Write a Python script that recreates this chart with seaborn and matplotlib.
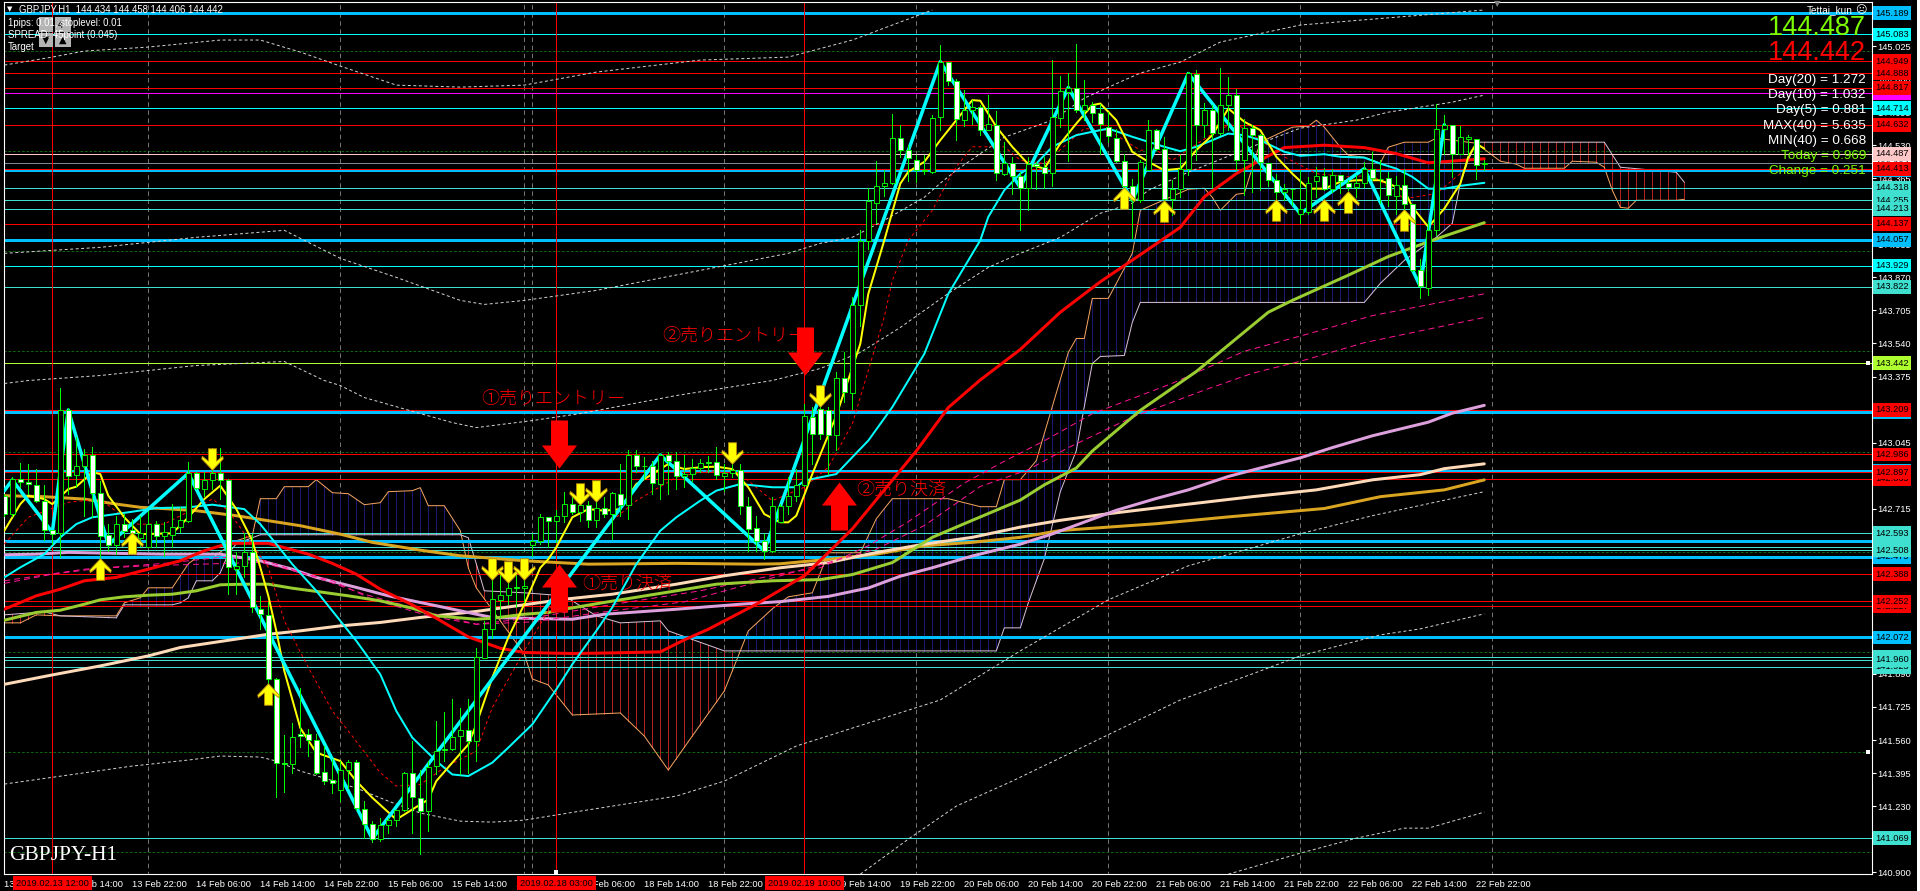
import numpy as np
import pandas as pd
import matplotlib
matplotlib.use("Agg")
import matplotlib.pyplot as plt
from matplotlib.path import Path
from matplotlib.patches import Rectangle
import seaborn as sns

# ---- candles (GBPJPY H1) ----
opens = [142.780,142.688,142.862,142.848,142.833,142.752,142.608,142.592,143.208,142.882,
142.928,142.982,142.792,142.583,142.535,142.638,142.607,142.568,142.525,142.638,
142.580,142.585,142.622,142.655,142.892,142.813,142.858,142.892,142.858,142.412,
142.428,142.497,142.213,142.183,141.863,141.443,141.438,141.588,141.588,141.558,
141.402,141.358,141.308,141.408,141.452,141.218,141.142,141.067,141.138,141.162,
141.213,141.397,141.272,141.208,141.430,141.517,141.517,141.578,141.608,141.553,
141.972,142.113,142.258,142.283,142.322,142.318,142.533,142.552,142.672,142.655,
142.680,142.738,142.697,142.733,142.658,142.718,142.688,142.788,142.735,142.983,
142.930,142.927,142.838,142.983,142.952,142.880,142.888,142.917,142.947,142.947,
142.880,142.895,142.908,142.727,142.617,142.552,142.502,142.647,142.730,142.780,
142.833,143.175,143.213,143.208,143.083,143.368,143.293,143.733,144.050,144.243,
144.327,144.343,144.568,144.508,144.455,144.405,144.397,144.672,144.947,144.852,
144.658,144.708,144.722,144.608,144.632,144.388,144.442,144.377,144.318,144.438,
144.422,144.393,144.668,144.797,144.818,144.708,144.733,144.692,144.622,144.568,
144.452,144.327,144.255,144.408,144.608,144.513,144.263,144.310,144.410,144.883,
144.633,144.708,144.593,144.730,144.783,144.455,144.617,144.583,144.442,144.358,
144.297,144.313,144.188,144.197,144.352,144.375,144.313,144.383,144.342,144.322,
144.342,144.413,144.363,144.368,144.277,144.333,144.238,143.905,143.818,144.108,
144.610,144.632,144.488,144.563,144.563,144.434]
closes = [142.688,142.863,142.848,142.838,142.752,142.608,142.588,143.208,142.880,142.928,
142.982,142.792,142.580,142.535,142.638,142.605,142.592,142.592,142.638,142.580,
142.597,142.622,142.658,142.892,142.818,142.858,142.892,142.858,142.422,142.428,
142.497,142.222,142.188,141.863,141.443,141.438,141.575,141.578,141.558,141.397,
141.355,141.343,141.408,141.452,141.222,141.142,141.067,141.135,141.162,141.213,
141.397,141.275,141.208,141.427,141.505,141.508,141.577,141.608,141.553,141.977,
142.113,142.263,142.283,142.318,142.317,142.330,142.552,142.672,142.655,142.677,
142.738,142.697,142.733,142.658,142.718,142.688,142.792,142.735,142.983,142.930,
142.927,142.842,142.983,142.952,142.880,142.888,142.917,142.942,142.945,142.885,
142.892,142.908,142.730,142.613,142.552,142.505,142.728,142.728,142.780,142.833,
143.177,143.088,143.088,143.083,143.368,143.300,143.733,144.050,144.250,144.327,
144.343,144.568,144.508,144.468,144.405,144.403,144.668,144.947,144.852,144.663,
144.708,144.722,144.608,144.638,144.393,144.442,144.377,144.318,144.435,144.428,
144.393,144.672,144.800,144.818,144.708,144.733,144.692,144.638,144.578,144.452,
144.327,144.255,144.447,144.608,144.513,144.263,144.313,144.410,144.888,144.633,
144.708,144.593,144.730,144.783,144.458,144.617,144.583,144.447,144.358,144.297,
144.313,144.312,144.213,144.342,144.375,144.313,144.383,144.350,144.322,144.342,
144.413,144.367,144.362,144.283,144.333,144.238,143.905,143.825,144.105,144.613,
144.632,144.488,144.572,144.572,144.433,144.442]
highs = [142.788,142.872,142.943,142.938,142.913,142.835,142.608,143.318,143.218,143.075,
143.013,143.025,142.855,142.638,142.680,142.688,142.663,142.680,142.705,142.655,
142.647,142.738,142.722,142.950,142.897,142.897,143.018,143.018,142.863,142.497,
142.592,142.588,142.280,142.247,141.872,141.585,141.647,141.822,141.613,141.588,
141.530,141.463,141.455,141.458,141.458,141.255,141.158,141.172,141.172,141.213,
141.402,141.555,141.408,141.455,141.655,141.702,141.763,141.722,141.763,142.018,
142.155,142.363,142.388,142.388,142.388,142.388,142.588,142.688,142.672,142.708,
142.797,142.772,142.755,142.755,142.797,142.772,142.797,142.938,143.008,143.008,
142.972,142.955,142.988,142.997,142.997,142.985,142.963,142.963,142.980,143.022,
142.938,142.938,142.938,142.772,142.680,142.588,142.772,142.738,142.872,142.913,
143.238,143.222,143.322,143.222,143.397,143.497,143.772,144.105,144.317,144.450,
144.405,144.688,144.630,144.530,144.480,144.480,144.680,145.030,144.947,144.863,
144.805,144.755,144.730,144.783,144.700,144.547,144.472,144.397,144.472,144.447,
144.472,144.955,144.875,144.888,145.035,144.855,144.747,144.738,144.697,144.613,
144.488,144.363,144.455,144.658,144.613,144.572,144.355,144.480,144.897,144.905,
144.743,144.730,144.913,144.872,144.813,144.663,144.630,144.588,144.442,144.388,
144.338,144.313,144.405,144.372,144.422,144.417,144.413,144.383,144.355,144.380,
144.447,144.497,144.455,144.397,144.375,144.413,144.238,143.963,144.147,144.738,
144.680,144.632,144.625,144.583,144.563,144.458]
lows = [142.680,142.680,142.825,142.788,142.747,142.558,142.538,142.472,142.788,142.825,
142.680,142.672,142.472,142.505,142.488,142.572,142.522,142.530,142.522,142.525,
142.480,142.522,142.597,142.647,142.813,142.780,142.813,142.763,142.288,142.288,
142.372,142.197,142.113,141.825,141.277,141.302,141.397,141.525,141.480,141.388,
141.342,141.297,141.255,141.322,141.213,141.072,141.050,141.058,141.097,141.130,
141.208,141.097,140.992,141.108,141.392,141.455,141.508,141.388,141.397,141.455,
141.968,142.067,142.172,142.238,142.222,142.247,142.480,142.538,142.522,142.547,
142.647,142.688,142.655,142.622,142.622,142.672,142.563,142.680,142.663,142.897,
142.863,142.788,142.763,142.788,142.813,142.822,142.855,142.897,142.897,142.863,
142.805,142.872,142.688,142.505,142.505,142.463,142.497,142.647,142.688,142.755,
142.828,142.938,143.063,142.888,143.010,143.247,143.213,143.627,144.010,144.142,
144.277,144.335,144.472,144.352,144.347,144.388,144.392,144.605,144.830,144.555,
144.625,144.638,144.580,144.605,144.355,144.380,144.288,144.105,144.205,144.313,
144.318,144.325,144.622,144.452,144.697,144.655,144.647,144.488,144.547,144.447,
144.308,144.062,144.247,144.405,144.505,144.180,144.180,144.272,144.380,144.455,
144.572,144.322,144.580,144.605,144.405,144.280,144.297,144.305,144.327,144.255,
144.255,144.230,144.142,144.188,144.272,144.305,144.297,144.292,144.305,144.272,
144.322,144.355,144.243,144.225,144.185,144.205,143.902,143.768,143.780,144.080,
144.488,144.372,144.485,144.480,144.363,144.406]

# ---- zigzag ----
zig_i = [0,1,6,8,13,23,46,82,95,117,127,133,141,148,162,170,177,180]
zig_p = [142.805,142.858,142.597,143.208,142.535,142.892,141.067,142.983,142.505,144.947,
         144.318,144.818,144.255,144.888,144.188,144.413,143.825,144.632]

# ---- moving averages ----
yellow_i = [0,2,3,5,6,8,9,11,12,13,15,17,21,23,25,27,29,31,32,33,34,35,37,39,42,44,46,49,51,53,54,56,58,59,61,63,65,67,68,69,71,73,75,77,79,81,83,85,87,89,91,93,95,97,98,99,101,104,107,108,110,112,113,115,117,119,121,122,124,126,128,130,132,134,136,137,139,141,143,145,147,149,151,153,155,157,159,161,163,165,167,169,172,175,176,178,180,182,183,184,185]
yellow_p = [142.605,142.738,142.780,142.763,142.738,142.813,142.825,142.897,142.888,142.780,142.672,142.588,142.592,142.672,142.763,142.830,142.713,142.555,142.422,142.280,142.105,141.905,141.620,141.497,141.455,141.355,141.272,141.163,141.213,141.263,141.355,141.447,141.538,141.638,141.872,142.072,142.238,142.420,142.463,142.522,142.672,142.713,142.705,142.713,142.838,142.888,142.938,142.913,142.922,142.925,142.913,142.822,142.688,142.647,142.647,142.680,142.888,143.180,143.538,143.788,144.055,144.338,144.397,144.447,144.555,144.655,144.755,144.752,144.622,144.522,144.435,144.413,144.538,144.638,144.730,144.738,144.655,144.497,144.447,144.405,144.413,144.505,144.580,144.713,144.647,144.605,144.472,144.388,144.313,144.313,144.347,144.355,144.355,144.305,144.222,144.122,144.213,144.338,144.472,144.538,144.513]
cyan_i = [0,2,5,7,9,11,13,16,19,23,26,30,32,34,36,39,41,44,47,49,51,54,56,58,61,63,66,69,71,74,76,79,82,84,87,89,92,94,96,99,100,104,106,108,111,115,118,122,123,125,127,129,131,134,136,138,141,143,145,147,149,151,153,155,157,160,162,165,167,170,172,174,176,178,180,182,185]
cyan_p = [142.372,142.422,142.488,142.572,142.638,142.672,142.683,142.700,142.718,142.722,142.735,142.713,142.638,142.538,142.438,142.305,142.205,142.055,141.888,141.705,141.572,141.455,141.388,141.380,141.447,141.522,141.638,141.813,141.938,142.105,142.222,142.438,142.605,142.672,142.755,142.805,142.838,142.830,142.822,142.822,142.855,142.888,142.972,143.055,143.222,143.488,143.788,144.055,144.172,144.305,144.388,144.438,144.522,144.580,144.597,144.613,144.572,144.547,144.522,144.500,144.522,144.555,144.588,144.580,144.555,144.497,144.477,144.485,144.472,144.468,144.438,144.413,144.372,144.313,144.313,144.327,144.342]
red_i = [0,4,7,10,14,18,22,25,28,33,38,41,44,47,51,54,58,62,65,71,76,82,85,88,94,100,103,106,114,118,122,127,132,137,142,147,150,154,157,160,165,170,174,178,185]
red_p = [142.213,142.280,142.313,142.355,142.372,142.413,142.455,142.505,142.542,142.542,142.488,142.442,142.388,142.313,142.235,142.168,142.075,142.018,141.997,141.992,141.995,142.000,142.060,142.113,142.238,142.380,142.496,142.614,143.003,143.220,143.358,143.510,143.696,143.848,143.983,144.120,144.272,144.388,144.455,144.518,144.530,144.518,144.488,144.442,144.462]
ygreen_i = [0,4,7,10,12,15,18,21,24,27,30,33,36,39,43,47,51,54,59,61,65,68,70,75,84,89,96,102,106,111,116,121,127,130,134,136,142,149,158,161,168,173,177,180,185]
ygreen_p = [142.158,142.197,142.208,142.238,142.260,142.275,142.283,142.288,142.305,142.335,142.338,142.338,142.318,142.302,142.280,142.255,142.218,142.180,142.163,142.168,142.188,142.197,142.213,142.247,142.305,142.338,142.355,142.361,142.386,142.446,142.572,142.657,142.758,142.834,142.918,143.003,143.206,143.400,143.696,143.755,143.881,143.974,144.033,144.076,144.143]
plum_i = [0,4,8,14,20,27,32,36,39,44,48,51,55,59,61,65,71,75,84,92,97,103,108,112,116,121,127,131,135,139,144,148,153,157,162,166,171,178,181,185]
plum_p = [142.485,142.488,142.497,142.492,142.488,142.488,142.455,142.413,142.372,142.322,142.280,142.255,142.222,142.188,142.172,142.168,142.163,142.188,142.213,142.238,142.251,142.277,142.319,142.378,142.420,142.479,142.538,142.589,142.648,142.707,142.766,142.809,142.876,142.918,142.969,143.020,143.079,143.147,143.192,143.231]
peach_i = [0,6,12,18,22,28,33,37,42,47,52,59,70,76,84,90,97,103,109,115,121,127,132,138,147,156,164,171,177,180,185]
peach_p = [141.838,141.885,141.930,141.980,142.022,142.058,142.088,142.105,142.130,142.147,142.172,142.202,142.263,142.288,142.338,142.380,142.420,142.446,142.496,142.538,142.572,142.623,142.657,142.690,142.733,142.775,142.809,142.859,142.885,142.915,142.939]
gold_i = [0,5,10,14,17,21,24,29,33,37,42,46,52,57,65,73,84,94,97,103,109,115,121,127,132,138,144,153,165,172,180,185]
gold_p = [142.780,142.775,142.763,142.738,142.722,142.713,142.705,142.680,142.655,142.630,142.588,142.547,142.508,142.480,142.455,142.438,142.442,142.438,142.440,142.462,142.488,142.530,142.547,142.572,142.606,142.623,142.640,142.674,142.716,142.775,142.809,142.859]
pink1_i = [0,10,20,27,32,39,45,54,59,66,75,87,97,102,108,113,120,125,130,136,146,155,162,171,185]
pink1_p = [142.355,142.413,142.442,142.472,142.463,142.372,142.288,142.188,142.138,142.170,142.230,142.305,142.390,142.420,142.530,142.650,142.843,142.952,143.054,143.189,143.341,143.501,143.577,143.679,143.788]
pink2_i = [0,6,12,18,32,41,46,53,59,66,75,85,97,109,115,122,128,133,141,150,156,162,170,185]
pink2_p = [142.342,142.388,142.418,142.430,142.447,142.355,142.263,142.180,142.138,142.150,142.200,142.250,142.380,142.513,142.631,142.826,142.910,143.020,143.172,143.307,143.391,143.451,143.544,143.670]
dotred_i = [0,3,8,12,16,20,26,28,33,35,38,41,43,47,49,52,55,59,61,65,67,71,75,79,84,88,92,96,100,103,106,110,111,113,116,118,119,121,125,127,130,135,138,142,144,146,152,154,160,164,168,171,175,179,182]
dotred_p = [142.538,142.672,142.747,142.763,142.638,142.638,142.763,142.705,142.422,142.155,141.922,141.705,141.605,141.397,141.330,141.338,141.422,141.505,141.722,142.005,142.138,142.405,142.622,142.755,142.872,142.905,142.888,142.755,142.822,142.922,143.138,143.672,143.855,144.055,144.205,144.355,144.422,144.522,144.522,144.455,144.438,144.613,144.605,144.505,144.505,144.455,144.613,144.638,144.472,144.388,144.372,144.380,144.263,144.288,144.388]

# ---- Bollinger bands ----
bbtop_i = [0,6,10,18,27,32,37,42,49,57,65,74,87,98,106,116]
bbtop_p = [144.930,144.970,145.000,145.020,145.055,145.055,144.995,144.925,144.830,144.820,144.830,144.895,144.955,144.970,145.055,145.205]
bbmid_i = [0,12,24,35,42,49,57,60,65,74,87,98,102,106,110,115,117,119,125,131,135,140,142,147,152,162,185]
bbmid_p = [143.990,144.020,144.070,144.105,143.965,143.870,143.755,143.735,143.755,143.805,143.905,143.990,144.040,144.070,144.155,144.270,144.340,144.405,144.570,144.655,144.765,144.855,144.890,144.945,145.045,145.130,145.205]
bbin_i = [0,3,12,24,35,40,42,45,52,56,59,66,72,76,84,96,102,107,112,115,118,123,127,132,137,141,143,148,158,162,169,173,181,185]
bbin_p = [143.340,143.355,143.380,143.430,143.450,143.355,143.330,143.270,143.190,143.145,143.120,143.155,143.190,143.220,143.280,143.355,143.415,143.495,143.620,143.705,143.790,143.920,143.990,144.070,144.190,144.240,144.305,144.395,144.555,144.615,144.655,144.695,144.745,144.780]
bblo1_i = [0,16,23,27,32,34,37,40,44,48,52,57,61,65,72,84,90,99,117,127,138,148,156,162,171,185]
bblo1_p = [141.340,141.430,141.460,141.480,141.475,141.455,141.405,141.370,141.320,141.255,141.195,141.155,141.150,141.160,141.205,141.280,141.355,141.530,141.760,142.005,142.260,142.430,142.520,142.590,142.680,142.800]
bblo2_i = [107,113,119,126,147,156,162,172,177,185]
bblo2_p = [140.890,141.065,141.230,141.355,141.760,141.890,141.980,142.085,142.115,142.190]
bblo3_i = [153,162,169,175,178,185]
bblo3_p = [140.890,140.995,141.070,141.120,141.120,141.200]

# ---- Ichimoku spans ----
spanA_i = [0,2,4,7,14,15,17,18,21,23,24,26,29,31,32,34,35,38,39,41,43,45,47,48,51,52,53,55,57,58,59,65,66,68,71,77,80,83,86,90,92,93,96,98,101,103,107,109,111,118,122,124,125,127,129,131,133,134,135,136,138,141,142,144,148,150,151,152,154,155,157,161,163,164,165,167,168,170,172,173,175,178,179,181,184,187,189,190,195,196,199,200,201,202,203,204,209,210]
spanA_p = [142.145,142.145,142.185,142.180,142.180,142.245,142.270,142.320,142.320,142.440,142.470,142.470,142.555,142.580,142.765,142.765,142.825,142.825,142.860,142.795,142.790,142.735,142.745,142.800,142.805,142.820,142.730,142.730,142.605,142.420,142.320,141.990,141.865,141.835,141.685,141.695,141.580,141.410,141.580,141.805,142.005,142.105,142.215,142.275,142.295,142.495,142.495,142.665,142.765,142.765,142.725,142.725,142.860,142.860,142.955,143.225,143.495,143.565,143.565,143.765,143.765,143.990,144.205,144.240,144.310,144.315,144.270,144.205,144.285,144.290,144.545,144.620,144.625,144.655,144.620,144.520,144.480,144.470,144.440,144.520,144.545,144.545,144.565,144.555,144.540,144.450,144.435,144.415,144.415,144.450,144.445,144.420,144.305,144.220,144.215,144.255,144.255,144.260]
spanB_i = [0,5,7,14,15,21,22,23,24,26,27,28,29,31,32,57,58,59,60,65,70,74,77,82,83,90,124,125,127,128,130,132,134,135,136,137,140,141,142,170,172,175,179,181,182,183,184,200,202,209,210]
spanB_p = [142.185,142.200,142.180,142.170,142.235,142.235,142.245,142.270,142.355,142.355,142.395,142.490,142.540,142.570,142.585,142.585,142.570,142.440,142.305,142.295,142.280,142.180,142.145,142.155,142.105,142.005,142.005,142.120,142.120,142.245,142.465,142.800,143.005,143.225,143.440,143.475,143.480,143.645,143.745,143.745,143.840,143.955,144.070,144.140,144.340,144.455,144.545,144.545,144.420,144.395,144.345]

# ---- horizontal levels (drawn in this order; the later box covers the earlier) ----
level_prices = [145.189,145.083,144.949,144.888,144.792,144.817,144.714,144.632,144.405,144.442,144.487,144.413,144.318,144.255,144.213,144.137,144.057,143.929,143.822,143.442,143.199,143.209,142.986,142.905,142.865,142.897,142.475,142.554,142.524,142.593,142.508,142.388,142.227,142.252,142.072,141.977,141.925,141.960,141.069]
level_colors = ['#00BFFF','#00FFFF','#FF0000','#FF0000','#FF00FF','#FF0000','#00FFFF','#FF0000','#00BFFF','#778899','#FFC8C8','#FF0000','#40E0D0','#40E0D0','#40E0D0','#FF0000','#00BFFF','#00FFFF','#40E0D0','#ADFF2F','#00BFFF','#FF0000','#FF0000','#00BFFF','#FF0000','#FF0000','#00BFFF','#00BFFF','#40E0D0','#40E0D0','#40E0D0','#FF0000','#FF0000','#FF0000','#00BFFF','#40E0D0','#40E0D0','#40E0D0','#40E0D0']
level_thick = [1,0,0,0,0,0,0,0,1,0,0,0,0,0,0,0,1,0,0,0,1,0,0,1,0,0,1,1,0,0,0,0,0,0,1,0,0,0,0]
level_texts = ['145.189','145.083','144.949','144.888','144.792','144.817','144.714','144.632','144.405','144.442','144.487','144.413','144.318','144.255','144.213','144.137','144.057','143.929','143.822','143.442','143.199','143.209','142.986','142.905','142.865','142.897','142.475','142.554','142.524','142.593','142.508','142.388','142.227','142.252','142.072','141.977','141.925','141.960','141.069']
label_colors = ['#00BFFF','#00FFFF','#FF0000','#FF0000','#FF00FF','#FF0000','#00FFFF','#FF0000','#00BFFF','#FFFFFF','#FFC8C8','#FF0000','#40E0D0','#40E0D0','#40E0D0','#FF0000','#00BFFF','#00FFFF','#40E0D0','#ADFF2F','#00BFFF','#FF0000','#FF0000','#00BFFF','#FF0000','#FF0000','#00BFFF','#00BFFF','#40E0D0','#40E0D0','#40E0D0','#FF0000','#FF0000','#FF0000','#00BFFF','#40E0D0','#40E0D0','#40E0D0','#40E0D0']
grid_prices = [145.0,144.5,144.0,143.5,143.0,142.5,142.0,141.5,141.0]
price_ticks = [140.900,141.065,141.230,141.395,141.560,141.725,141.890,142.055,142.220,142.385,142.550,142.715,142.880,143.045,143.210,143.375,143.540,143.705,143.870,144.035,144.200,144.365,144.530,144.695,144.860,145.025,145.190]

# ---- time axis ----
time_ticks = list(range(0, 192, 8))
time_labels = ['13 Feb 06:00','13 Feb 14:00','13 Feb 22:00','14 Feb 06:00','14 Feb 14:00','14 Feb 22:00','15 Feb 06:00','15 Feb 14:00','15 Feb 22:00','18 Feb 06:00','18 Feb 14:00','18 Feb 22:00','19 Feb 06:00','19 Feb 14:00','19 Feb 22:00','20 Feb 06:00','20 Feb 14:00','20 Feb 22:00','21 Feb 06:00','21 Feb 14:00','21 Feb 22:00','22 Feb 06:00','22 Feb 14:00','22 Feb 22:00']
separators = [18,42,65,66,90,114,138,162,186]
red_bars = [6,69,100]
red_bar_labels = ['2019.02.13 12:00','2019.02.18 03:00','2019.02.19 10:00']

# ---- signals ----
yellow_up_i = [12,16,33,140,145,159,165,168,175]
yellow_up_p = [142.415,142.545,141.790,144.265,144.200,144.205,144.205,144.245,144.155]
yellow_dn_i = [26,61,63,65,72,74,91,102]
yellow_dn_p = [142.965,142.415,142.400,142.415,142.790,142.805,142.995,143.280]
red_dn_i = [69.3,100.1]
red_dn_p = [143.040,143.500]
red_up_i = [69.3,104.3]
red_up_p = [142.318,142.730]
note_texts = ['①売りエントリー','②売りエントリー','①売り決済','②売り決済']
note_i = [59.6,82.3,72.3,106.5]
note_p = [143.26,143.575,142.34,142.81]
stats_texts = ['Day(20) = 1.272','Day(10) = 1.032','Day(5) = 0.881','MAX(40) = 5.635','MIN(40) = 0.668','Today = 0.969','Change = 0.251']
stats_colors = ['white','white','white','white','white','#7CFC00','#7CFC00']

# ---- figure ----
sns.set_style("dark", {"axes.facecolor": "black", "figure.facecolor": "black"})
plt.rcParams['font.family'] = ['Liberation Sans', 'Noto Sans CJK JP', 'DejaVu Sans']
W, H = 1920, 891
fig = plt.figure(figsize=(W/100, H/100), dpi=100, facecolor='black')
ax = fig.add_axes([3.5/W, 1-874/H, 1868/W, 872/H], facecolor='black')
fx = lambda x: x/W
fy = lambda y: 1-y/H
PX = 0.72

ax.set_xlim(-0.1, 233.4)
ax.set_ylim(140.891, 145.245)

for s in ax.spines.values():
    s.set_color('white'); s.set_linewidth(1.1*PX); s.set_visible(True)

# grid
ax.hlines(grid_prices, -1, 234, colors='#0E6E0E', linestyles=(0,(3,2)), lw=0.9*PX, zorder=1)
ax.vlines(separators, 140, 146, colors='#808080', linestyles=(0,(5,4)), lw=0.9*PX, zorder=1)

# Ichimoku hatch
hi = np.arange(0, 211)
a = np.interp(hi, spanA_i, spanA_p)
b = np.interp(hi, spanB_i, spanB_p)
up = a >= b
ax.vlines(hi[up], b[up], a[up], colors='#191970', lw=0.9*PX, zorder=1.5, antialiased=False)
ax.vlines(hi[~up], a[~up], b[~up], colors='#B22222', lw=0.9*PX, zorder=1.5, antialiased=False)

def draw(i, p, color, lw, ls='-', z=3):
    sns.lineplot(x=i, y=p, ax=ax, color=color, linewidth=lw*PX, linestyle=ls,
                 estimator=None, sort=False, legend=False, zorder=z)

draw(spanA_i, spanA_p, '#F4A460', 1, z=2)
draw(spanB_i, spanB_p, '#D8BFD8', 1, z=2)

# horizontal levels
for p, c, t in zip(level_prices, level_colors, level_thick):
    ax.axhline(p, color=c, lw=(3 if t else 0.9)*PX, zorder=2.5, antialiased=False)
# vertical red markers
ax.vlines(red_bars, 140, 146, colors='#FF0000', lw=0.9*PX, zorder=2.5, antialiased=False)

# Bollinger
dot = (0, (3, 2.5))
for i_, p_ in [(bbtop_i, bbtop_p), (bbmid_i, bbmid_p), (bbin_i, bbin_p),
               (bblo1_i, bblo1_p), (bblo2_i, bblo2_p), (bblo3_i, bblo3_p)]:
    draw(i_, p_, '#D0D0D0', 1, dot, z=2.6)

# moving averages
draw(gold_i, gold_p, '#DAA520', 3)
draw(peach_i, peach_p, '#FFDAB9', 3)
draw(plum_i, plum_p, '#DDA0DD', 3)
draw(pink1_i, pink1_p, '#FF1493', 1, (0, (6, 4)))
draw(pink2_i, pink2_p, '#FF1493', 1, (0, (6, 4)))
draw(ygreen_i, ygreen_p, '#9ACD32', 3)
draw(red_i, red_p, '#FF0000', 3)
draw(dotred_i, dotred_p, '#FF0000', 1, (0, (3, 3)))
draw(cyan_i, cyan_p, '#00FFFF', 2)
draw(yellow_i, yellow_p, '#FFFF00', 2)
draw(zig_i, zig_p, '#00FFFF', 3.5)

# candles
o, c, h, l = map(np.array, (opens, closes, highs, lows))
x = np.arange(len(o))
ax.vlines(x, l, h, colors='#00FF00', lw=0.9*PX, zorder=4, antialiased=False)
faces = np.where(c >= o, 'black', 'white')
ax.bar(x, np.abs(c-o), bottom=np.minimum(o, c), width=0.62, color=faces,
       edgecolor='#00FF00', linewidth=0.9*PX, zorder=4.2)

# arrow markers
yv = [(0,1),(1,-0.05),(0.95,-0.3),(0.38,0.15),(0.38,-1),(-0.38,-1),(-0.38,0.15),(-0.95,-0.3),(-1,-0.05),(0,1)]
yellow_up = Path(yv, closed=True)
yellow_dn = Path([(a_, -b_) for a_, b_ in yv], closed=True)
rv = [(0,1),(0.73,0.04),(0.354,0.04),(0.354,-1),(-0.354,-1),(-0.354,0.04),(-0.73,0.04),(0,1)]
big_up = Path(rv, closed=True)
big_dn = Path([(a_, -b_) for a_, b_ in rv], closed=True)
ax.scatter(yellow_up_i, yellow_up_p, marker=yellow_up, s=240, c='#FFFF00', edgecolors='#B8860B', linewidths=0.6, zorder=5)
ax.scatter(yellow_dn_i, yellow_dn_p, marker=yellow_dn, s=240, c='#FFFF00', edgecolors='#B8860B', linewidths=0.6, zorder=5)
ax.scatter(red_dn_i, red_dn_p, marker=big_dn, s=1197, c='#FF0000', linewidths=0, zorder=5.5)
ax.scatter(red_up_i, red_up_p, marker=big_up, s=1197, c='#FF0000', linewidths=0, zorder=5.5)
for t, i_, p_ in zip(note_texts, note_i, note_p):
    ax.text(i_, p_, t, color='#FF0000', fontsize=13, ha='left', va='center', zorder=5.6, fontweight='light')
ax.scatter([232.9, 232.9], [143.442, 141.5], marker='s', s=7, c='white', linewidths=0, zorder=6)
ax.scatter([69], [140.9], marker='s', s=9, c='white', linewidths=0, zorder=6, clip_on=False)

# axes ticks
ax.yaxis.tick_right()
ax.set_yticks(price_ticks)
ax.set_yticklabels([f'{v:.3f}' for v in price_ticks])
ax.set_xticks(time_ticks)
ax.set_xticklabels(time_labels, ha='left')
ax.tick_params(axis='both', colors='white', labelsize=6.7, length=3, width=0.8, pad=1.5, labelcolor='white')
ax.grid(False)

# right boxes
ytrans = ax.get_yaxis_transform()
for k, (p, t, col) in enumerate(zip(level_prices, level_texts, label_colors)):
    ax.text(1.0+3.7/1868, p, t, transform=ytrans, color='black', fontsize=6.7, va='center', ha='left',
            zorder=8+0.01*k, clip_on=False, bbox=dict(boxstyle='square,pad=0.26', fc=col, ec='none'))
# red bar date labels
xtrans = ax.get_xaxis_transform()
for i_, t in zip(red_bars, red_bar_labels):
    ax.text(i_, -9/872, t, transform=xtrans, color='black', fontsize=6.7, va='center', ha='center',
            zorder=8, clip_on=False, bbox=dict(boxstyle='square,pad=0.3', fc='#FF0000', ec='none'))

# overlay texts
def ftext(x_, y_, s, **kw):
    fig.text(fx(x_), fy(y_), s, **kw)

for (bx, by, bw, bh) in [(39,17,14,15),(55,17,16,15),(39,33,14,14),(55,33,16,14)]:
    fig.add_artist(Rectangle((fx(bx), fy(by+bh)), bw/W, bh/H, transform=fig.transFigure, fc='#B4B4B4', ec='none', zorder=9))
ftext(60, 25, '4', color='black', fontsize=7, ha='center', va='center', zorder=10)
ftext(46, 40, '▼', color='black', fontsize=7, ha='center', va='center', zorder=10, family='DejaVu Sans')
ftext(63, 40, '▲', color='black', fontsize=7, ha='center', va='center', zorder=10, family='DejaVu Sans')
ftext(7, 9.5, '▼', color='white', fontsize=5, ha='left', va='center', zorder=10, family='DejaVu Sans')
ftext(19, 9.5, 'GBPJPY,H1  144.434 144.458 144.406 144.442', color='white', fontsize=6.9, ha='left', va='center', zorder=10)
ftext(8, 22.5, '1pips: 0.01, stoplevel: 0.01', color='white', fontsize=6.9, ha='left', va='center', zorder=10)
ftext(8, 35, 'SPREAD: 45point (0.045)', color='white', fontsize=6.9, ha='left', va='center', zorder=10)
ftext(8, 47, 'Target', color='white', fontsize=6.9, ha='left', va='center', zorder=10)
ftext(9, 856, 'GBPJPY-H1', color='white', fontsize=15.5, ha='left', va='center', zorder=10, family='Liberation Serif')
ftext(1853, 10, 'Tettai_kun', color='white', fontsize=7.2, ha='right', va='center', zorder=10)
ftext(1855, 10.5, '☹', color='white', fontsize=8, ha='left', va='center', zorder=10, family='DejaVu Sans')
ftext(1866, 28, '144.487', color='#7CFC00', fontsize=19.5, ha='right', va='center', zorder=10)
ftext(1866, 53, '144.442', color='#FF0000', fontsize=19.5, ha='right', va='center', zorder=10)
for k, (t, col) in enumerate(zip(stats_texts, stats_colors)):
    ftext(1866, 80+15.2*k, t, color=col, fontsize=9.7, ha='right', va='center', zorder=10)
ftext(1497, 4, '▼', color='#808080', fontsize=6, ha='center', va='center', zorder=10, family='DejaVu Sans')
fig.add_artist(Rectangle((1917/W, 0), 3/W, 1, transform=fig.transFigure, fc='white', ec='none', zorder=11))

fig.savefig('out.png', dpi=100, facecolor='black')
